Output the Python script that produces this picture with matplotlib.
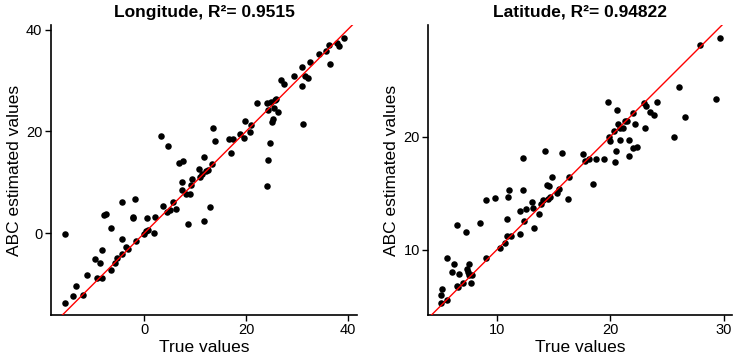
import matplotlib.pyplot as plt

plt.rcParams['font.family'] = ['Liberation Sans', 'DejaVu Sans']

# Longitude: true vs ABC estimated
lon_true = [-15.6, -15.6, -14.1, -13.4, -12.1, -11.2, -9.6, -9.3, -8.7, -8.4,
            -8.3, -7.9, -7.5, -6.6, -6.6, -5.8, -5.4, -4.3, -4.3, -4.3,
            -3.5, -3.1, -2.2, -2.2, -1.8, -1.6, -0.1, 0.3, 0.7, 0.5,
            2.0, 2.1, 3.2, 3.7, 4.4, 4.7, 5.1, 5.6, 6.2, 6.8,
            7.5, 7.7, 7.5, 8.2, 8.7, 9.0, 9.1, 9.4, 10.7, 11.0,
            11.4, 11.7, 11.8, 12.1, 12.5, 12.9, 13.3, 13.6, 13.9, 16.7,
            17.5, 17.1, 18.8, 19.7, 19.8, 20.7, 21.0, 22.2, 24.1, 24.1,
            24.3, 24.3, 24.7, 24.9, 25.1, 25.4, 25.5, 25.8, 26.4, 26.0,
            26.9, 27.4, 29.5, 31.0, 31.0, 31.3, 31.7, 32.2, 32.5, 34.4,
            35.8, 36.4, 36.5, 38.0, 38.3, 39.3]
lon_est = [-13.7, -0.1, -12.3, -10.3, -12.2, -8.25, -5.0, -8.9, -5.8, -8.9,
           -3.3, 3.5, 3.7, 1.1, -7.3, -5.8, -4.8, -4.1, -1.2, 6.2,
           -2.75, -3.2, 2.9, 3.1, 6.7, -1.5, -0.1, 0.5, 0.6, 2.9,
           0.1, 3.1, 19.1, 5.4, 4.1, 17.1, 4.5, 6.2, 4.8, 13.8,
           10.0, 14.1, 8.5, 7.6, 1.8, 7.6, 9.4, 10.7, 12.7, 11.1,
           11.7, 15.0, 2.4, 12.2, 12.4, 5.1, 13.6, 20.6, 18.1, 18.5,
           18.5, 15.8, 19.4, 18.8, 22.1, 19.8, 21.2, 25.5, 25.5, 9.2,
           14.4, 24.2, 17.7, 25.8, 21.8, 22.4, 24.7, 26.1, 23.8, 26.3,
           30.2, 29.4, 30.9, 32.7, 28.9, 21.5, 30.9, 30.6, 33.6, 35.2,
           35.8, 37.0, 33.3, 37.3, 36.7, 38.3]

# Latitude: true vs ABC estimated
lat_true = [5.06, 5.09, 5.15, 5.6, 5.6, 6.03, 6.26, 6.47, 6.47, 6.6,
            6.7, 7.06, 7.32, 7.35, 7.5, 7.6, 7.6, 7.76, 7.8, 8.5,
            9.06, 9.1, 9.85, 10.3, 10.7, 10.94, 11.03, 11.1, 10.9, 11.3,
            12.06, 12.06, 12.3, 12.35, 12.4, 12.6, 13.15, 13.24, 13.3, 13.7,
            13.9, 14.1, 14.3, 14.4, 14.5, 14.6, 14.7, 14.9, 15.3, 15.5,
            15.8, 16.3, 16.4, 17.6, 17.8, 18.1, 18.5, 18.76, 19.5, 19.8,
            19.9, 20.0, 20.3, 20.4, 20.5, 20.6, 20.7, 20.9, 20.9, 21.1,
            21.35, 21.5, 21.7, 21.7, 22.0, 22.0, 22.2, 22.35, 22.97, 23.2,
            23.1, 23.5, 23.9, 24.1, 25.6, 26.1, 26.6, 27.9, 29.3, 29.7]
lat_est = [5.35, 6.03, 6.6, 5.6, 9.26, 8.1, 8.74, 12.2, 6.8, 6.76,
           7.85, 7.06, 11.56, 8.3, 8.1, 8.74, 7.76, 7.1, 7.76, 12.4,
           14.4, 9.26, 14.6, 10.15, 10.6, 12.7, 14.7, 15.3, 11.2, 11.2,
           13.4, 11.4, 18.1, 15.3, 12.56, 13.6, 14.2, 13.7, 11.9, 13.2,
           14.06, 14.4, 18.7, 15.7, 14.5, 15.65, 14.7, 16.4, 15.06, 15.4,
           18.6, 14.5, 16.4, 18.5, 17.85, 18.0, 15.85, 18.0, 18.06, 23.1,
           19.94, 19.6, 20.5, 17.8, 18.7, 22.4, 21.1, 20.8, 19.7, 20.8,
           21.4, 21.4, 19.7, 18.3, 22.06, 19.0, 21.1, 19.1, 22.94, 22.7,
           20.8, 22.2, 21.9, 23.1, 20.0, 24.4, 21.7, 28.1, 23.3, 28.7]

panels = [
    ("Longitude, R\u00b2= 0.9515", lon_true, lon_est, (-18.4, 41.9), (-16.1, 40.9), [0, 20, 40], [0, 20, 40]),
    ("Latitude, R\u00b2= 0.94822", lat_true, lat_est, (3.97, 30.7), (4.26, 29.85), [10, 20, 30], [10, 20]),
]

fig = plt.figure(figsize=(7.37, 3.61), dpi=100)
rects = [[0.0688, 0.1274, 0.416, 0.803], [0.581, 0.1274, 0.4117, 0.803]]

for rect, (title, xt, ye, xl, yl, xticks, yticks) in zip(rects, panels):
    ax = fig.add_axes(rect)
    ax.scatter(xt, ye, s=22, color='black', linewidths=0, zorder=2)
    lo = min(xl[0], yl[0]) - 5
    hi = max(xl[1], yl[1]) + 5
    ax.plot([lo, hi], [lo, hi], color='red', lw=1.0, zorder=3)
    ax.set_xlim(xl)
    ax.set_ylim(yl)
    ax.set_xticks(xticks)
    ax.set_yticks(yticks)
    for s in ['top', 'right']:
        ax.spines[s].set_visible(False)
    for s in ['left', 'bottom']:
        ax.spines[s].set_linewidth(1.2)
    ax.tick_params(direction='out', length=4, width=1, labelsize=10.5, colors='black', pad=2)
    ax.set_xlabel("True values", fontsize=12.5, labelpad=2)
    ax.set_ylabel("ABC estimated values", fontsize=12.5, labelpad=3)
    ax.set_title(title, fontsize=12.5, fontweight='bold', pad=6)

plt.savefig("out.png", dpi=100)
plt.close()
